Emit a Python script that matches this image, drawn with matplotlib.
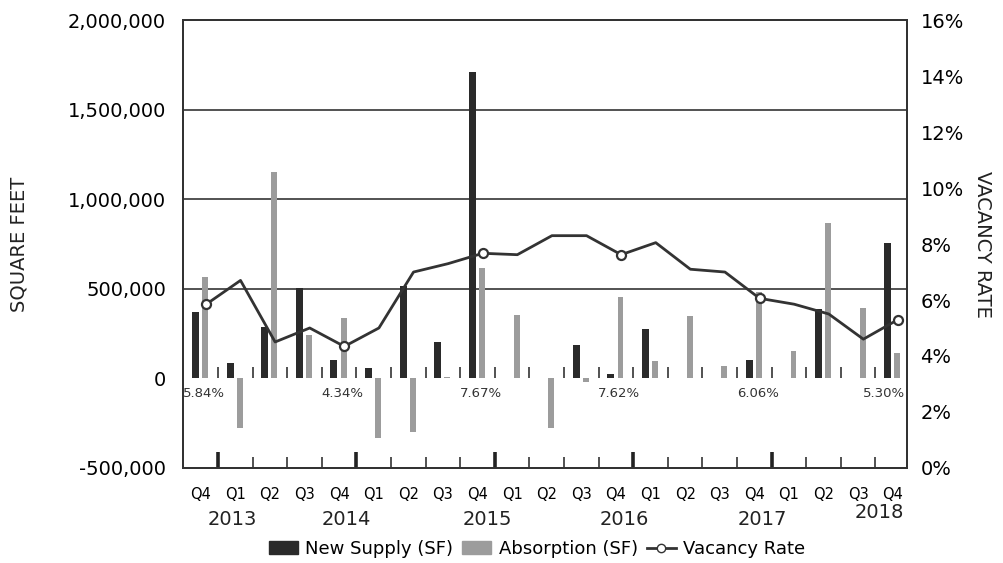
import numpy as np
import matplotlib
matplotlib.use("Agg")
from matplotlib import pyplot as plt
from matplotlib.ticker import FuncFormatter, MultipleLocator
from matplotlib.lines import Line2D
from matplotlib.patches import Patch

# quarters Q4 2013 .. Q4 2018
quarters = ["Q4", "Q1", "Q2", "Q3", "Q4", "Q1", "Q2", "Q3", "Q4", "Q1", "Q2",
            "Q3", "Q4", "Q1", "Q2", "Q3", "Q4", "Q1", "Q2", "Q3", "Q4"]
years = ["2013", "2014", "2015", "2016", "2017", "2018"]

# square feet
new_supply = [370000, 85000, 285000, 505000, 100000, 60000, 515000, 205000, 1710000, 0, 0,
              185000, 25000, 275000, 0, 0, 105000, 0, 385000, 0, 755000]
absorption = [564000, -275000, 1150000, 240000, 335000, -335000, -300000, 5000, 615000, 355000, -280000,
              -20000, 455000, 95000, 350000, 70000, 480000, 155000, 870000, 395000, 140000]

# vacancy rate, %
vacancy = [5.84, 6.7, 4.5, 5.0, 4.34, 5.0, 7.0, 7.3, 7.67, 7.62, 8.3,
           8.3, 7.62, 8.05, 7.1, 7.0, 6.06, 5.85, 5.5, 4.6, 5.30]
labelled = [0, 4, 8, 12, 16, 20]   # Q4 points that get a marker + label

# layout only: where the year captions sit along the category axis
year_x = [0.92, 4.22, 8.27, 12.23, 16.24, 19.6]

dark = "#2a2a2a"
light = "#9c9c9c"

fig = plt.figure(figsize=(10.04, 5.63), dpi=100)
ax = fig.add_axes([0.182, 0.169, 0.721, 0.795])
ax2 = ax.twinx()

x = np.arange(len(quarters))
ax.bar(x - 0.15, new_supply, width=0.2, color=dark, zorder=3)
ax.bar(x + 0.13, absorption, width=0.17, color=light, zorder=3)

ax.set_xlim(-0.52, 20.4)
ax.set_ylim(-500000, 2000000)
ax.yaxis.set_major_locator(MultipleLocator(500000))
ax.yaxis.set_major_formatter(FuncFormatter(lambda v, p: "{:,.0f}".format(v)))
for g in [500000, 1000000, 1500000]:
    ax.axhline(g, color="#444444", lw=1.3, zorder=1)

# little category ticks sitting on the zero line
bounds = x[:-1] + 0.5
ax.vlines(bounds, 0, 65000, color="#333333", lw=1.2, zorder=2)
# ticks on the bottom edge, heavier at year boundaries
ax.vlines(bounds, -500000, -440000, color="#333333", lw=1.2, zorder=2)
ax.vlines([0.5, 4.5, 8.5, 12.5, 16.5], -500000, -410000,
          color="#222222", lw=2.6, zorder=2)

ax.set_xticks(x)
ax.set_xticklabels(quarters, fontsize=10.5)
ax.tick_params(axis="x", length=0, pad=14)
ax.tick_params(axis="y", length=0, labelsize=14, pad=12)
for xp, yr in zip(year_x, years):
    ax.text(xp, -0.094 if yr != "2018" else -0.078, yr, transform=ax.get_xaxis_transform(),
            ha="center", va="top", fontsize=14, color="#222222")

ax2.plot(x + 0.15, vacancy, color="#333333", lw=2, zorder=4)
ax2.plot(x[labelled] + 0.15, [vacancy[i] for i in labelled], "o", ms=6.5,
         mfc="white", mec="#333333", mew=1.6, zorder=5)
ax2.set_ylim(0, 16)
ax2.yaxis.set_major_locator(MultipleLocator(2))
ax2.yaxis.set_major_formatter(FuncFormatter(lambda v, p: "{:.0f}%".format(v)))
ax2.tick_params(axis="y", length=0, labelsize=14, pad=10)

for i in labelled:
    if i == x[-1]:
        ax.text(20.35, -50000, "{:.2f}%".format(vacancy[i]), ha="right", va="top",
                fontsize=9.5, color="#333333")
    else:
        ax.text(i + 0.1, -50000, "{:.2f}%".format(vacancy[i]), ha="center", va="top",
                fontsize=9.5, color="#333333")

for a in (ax, ax2):
    for s in a.spines.values():
        s.set_color("#333333")
        s.set_linewidth(1.4)

ax.set_ylabel("SQUARE FEET", fontsize=14, labelpad=28, color="#222222")
ax2.set_ylabel("VACANCY RATE", fontsize=14, rotation=-90, labelpad=20, color="#222222")

handles = [Patch(color=dark), Patch(color=light),
           Line2D([], [], color="#333333", lw=2, marker="o", ms=6, mfc="white", mec="#333333")]
fig.legend(handles, ["New Supply (SF)", "Absorption (SF)", "Vacancy Rate"],
           loc="center", bbox_to_anchor=(0.535, 0.025), ncol=3, frameon=False,
           fontsize=13, handlelength=1.6, handletextpad=0.4, columnspacing=0.5)

fig.savefig("out.png", dpi=100)
